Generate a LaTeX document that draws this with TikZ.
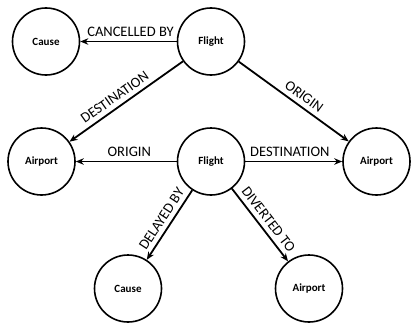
\documentclass[tikz,border=0pt]{standalone}
\usepackage{fontspec}
\setmainfont{Carlito}
\usetikzlibrary{arrows.meta}

\begin{document}
\begin{tikzpicture}[x=1pt, y=-1pt, >={Stealth[length=8pt,width=6.5pt]},
              entity/.style = {shape=circle, draw, line width=1.6pt,
                minimum size=67pt, inner sep=0pt,
                font=\fontsize{11}{13}\selectfont\bfseries},
              rel/.style = {draw, ->, line width=1.8pt},
              relname/.style = {sloped, above, inner sep=4.5pt,
                font=\fontsize{14.5}{16}\selectfont}]
  \useasboundingbox (0,0) rectangle (411,324);
  % entities
  \node[entity] (causeA) at (46,41.5) {Cause};
  \node[entity] (flightA) at (211,41.5) {Flight};
  \node[entity] (airportL) at (41.5,161.5) {Airport};
  \node[entity] (flightB) at (211,161.5) {Flight};
  \node[entity] (airportR) at (376.5,161.5) {Airport};
  \node[entity] (causeB) at (128,288.5) {Cause};
  \node[entity] (airportB) at (309,288.5) {Airport};
  % relationships
  \draw[rel] (flightA) -- node[relname, pos=0.48] {CANCELLED BY} (causeA);
  \draw[rel] (flightA) -- node[relname, pos=0.55] {DESTINATION} (airportL);
  \draw[rel] (flightA) -- node[relname, pos=0.54] {ORIGIN} (airportR);
  \draw[rel] (flightB) -- node[relname, pos=0.47] {ORIGIN} (airportL);
  \draw[rel] (flightB) -- node[relname, pos=0.46] {DESTINATION} (airportR);
  \draw[rel] (flightB) -- node[relname, pos=0.49] {DELAYED BY} (causeB);
  \draw[rel] (flightB) -- node[relname, pos=0.51] {DIVERTED TO} (airportB);
\end{tikzpicture}
\end{document}
